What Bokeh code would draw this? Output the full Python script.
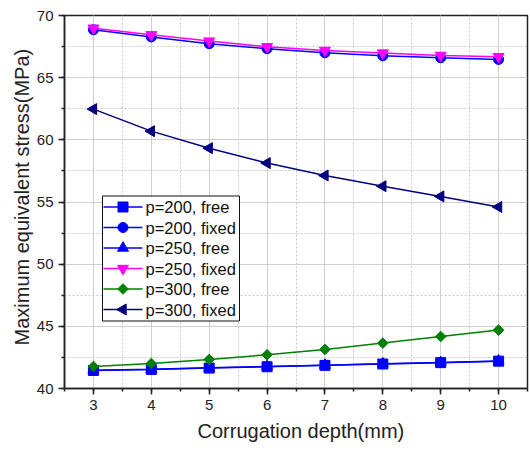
from bokeh.plotting import figure
from bokeh.models import Range1d, SingleIntervalTicker, Title
from bokeh.core.properties import value
from bokeh.embed import file_html
from bokeh.resources import INLINE

depth = [3, 4, 5, 6, 7, 8, 9, 10]
p200_free = [41.45, 41.53, 41.64, 41.75, 41.86, 41.97, 42.08, 42.20]
p200_fixed = [68.85, 68.27, 67.73, 67.33, 67.00, 66.76, 66.60, 66.47]
p250_free = [41.47, 41.55, 41.66, 41.77, 41.88, 41.99, 42.10, 42.22]
p250_fixed = [68.98, 68.45, 67.94, 67.49, 67.19, 66.98, 66.79, 66.69]
p300_free = [41.77, 42.01, 42.33, 42.71, 43.14, 43.65, 44.18, 44.70]
p300_fixed = [62.47, 60.70, 59.33, 58.13, 57.13, 56.27, 55.45, 54.60]

labels = ["p=200, free", "p=200, fixed", "p=250, free", "p=250, fixed", "p=300, free", "p=300, fixed"]
x_title = "Corrugation depth(mm)"
y_title = "Maximum equivalent stress(MPa)"
FONT = "Liberation Sans"

W, H = 530, 450
BL, BR, BT, BB = 64, 3, 15, 62
X0, X1, Y0, Y1 = 2.5, 10.5, 40, 70
FW = W - BL - BR
FH = H - BT - BB

p = figure(width=W, height=H, output_backend="svg", toolbar_location=None,
           x_range=Range1d(X0, X1), y_range=Range1d(Y0, Y1),
           min_border_left=BL, min_border_right=BR, min_border_top=BT, min_border_bottom=BB)
p.background_fill_color = "white"
p.border_fill_color = "white"
p.outline_line_color = "#222222"
p.outline_line_width = 1.5

p.xaxis.ticker = SingleIntervalTicker(interval=1, num_minor_ticks=2)
p.yaxis.ticker = SingleIntervalTicker(interval=5, num_minor_ticks=2)
for ax in (p.xaxis, p.yaxis):
    ax.axis_line_color = "#222222"
    ax.axis_line_width = 1.5
    ax.major_tick_line_color = "#222222"
    ax.minor_tick_line_color = "#222222"
    ax.major_tick_in = 0
    ax.major_tick_out = 6
    ax.minor_tick_in = 0
    ax.minor_tick_out = 3
    ax.major_tick_line_width = 1.5
    ax.minor_tick_line_width = 1.5
    ax.major_label_text_font = FONT
    ax.major_label_text_font_size = "15px"
    ax.major_label_text_color = "#222222"
p.yaxis.major_label_orientation = "horizontal"

for g in (p.xgrid, p.ygrid):
    g.grid_line_color = "#cfcfcf"
    g.grid_line_width = 1
    g.minor_grid_line_color = "#c8c8c8"
    g.minor_grid_line_dash = "2 2"
    g.minor_grid_line_width = 1

# axis titles as side titles, so they can be shifted along the axis
p.add_layout(Title(text=x_title, align="left", offset=197 - BL, standoff=14,
                   vertical_align="top",
                   text_font=FONT, text_font_size="20px", text_font_style="normal",
                   text_color="#222222"), "below")
p.add_layout(Title(text=y_title, align="left", offset=388 - 345, standoff=2,
                   text_font=FONT, text_font_size="20px", text_font_style="normal",
                   text_color="#222222"), "left")

series = [
    (p200_free, "#0000ff", "square", 10, 0),
    (p200_fixed, "#0000ff", "circle", 10, 0),
    (p250_free, "#0000ff", "triangle", 11, 0),
    (p250_fixed, "#ff00ff", "inverted_triangle", 11, 0),
    (p300_free, "#008000", "square", 7.5, 45),
    (p300_fixed, "#000080", "triangle", 11, 90),
]

for vals, col, mk, sz, ang in series:
    p.line(depth, vals, line_color=col, line_width=1.5)
    p.scatter(depth, vals, marker=mk, size=sz, angle=ang, angle_units="deg",
              fill_color=col, line_color=col)

# hand-built legend (Bokeh legend glyphs cannot be rotated)
def px_to_x(px):
    return X0 + (px - BL) / FW * (X1 - X0)

def py_to_y(py):
    return Y1 - (py - BT) / FH * (Y1 - Y0)

LEFT, RIGHT, TOP, BOTTOM = 102, 239, 195.5, 320.5
ROW0, ROW = 206.5, 20.5
p.quad(left=[px_to_x(LEFT)], right=[px_to_x(RIGHT)], top=[py_to_y(TOP)], bottom=[py_to_y(BOTTOM)],
       fill_color="white", line_color="#111111", line_width=1)
for i, ((vals, col, mk, sz, ang), lab) in enumerate(zip(series, labels)):
    yy = py_to_y(ROW0 + ROW * i)
    p.segment(x0=[px_to_x(103)], x1=[px_to_x(142)], y0=[yy], y1=[yy], line_color=col, line_width=1.5)
    p.scatter([px_to_x(122.5)], [yy], marker=mk, size=sz, angle=ang, angle_units="deg",
              fill_color=col, line_color=col)
    p.text([px_to_x(145)], [yy], text=[lab], text_font=value(FONT), text_font_size="16.5px",
           text_baseline="middle", text_align="left", text_color="#111111")

open("out.html", "w").write(file_html(p, INLINE))
